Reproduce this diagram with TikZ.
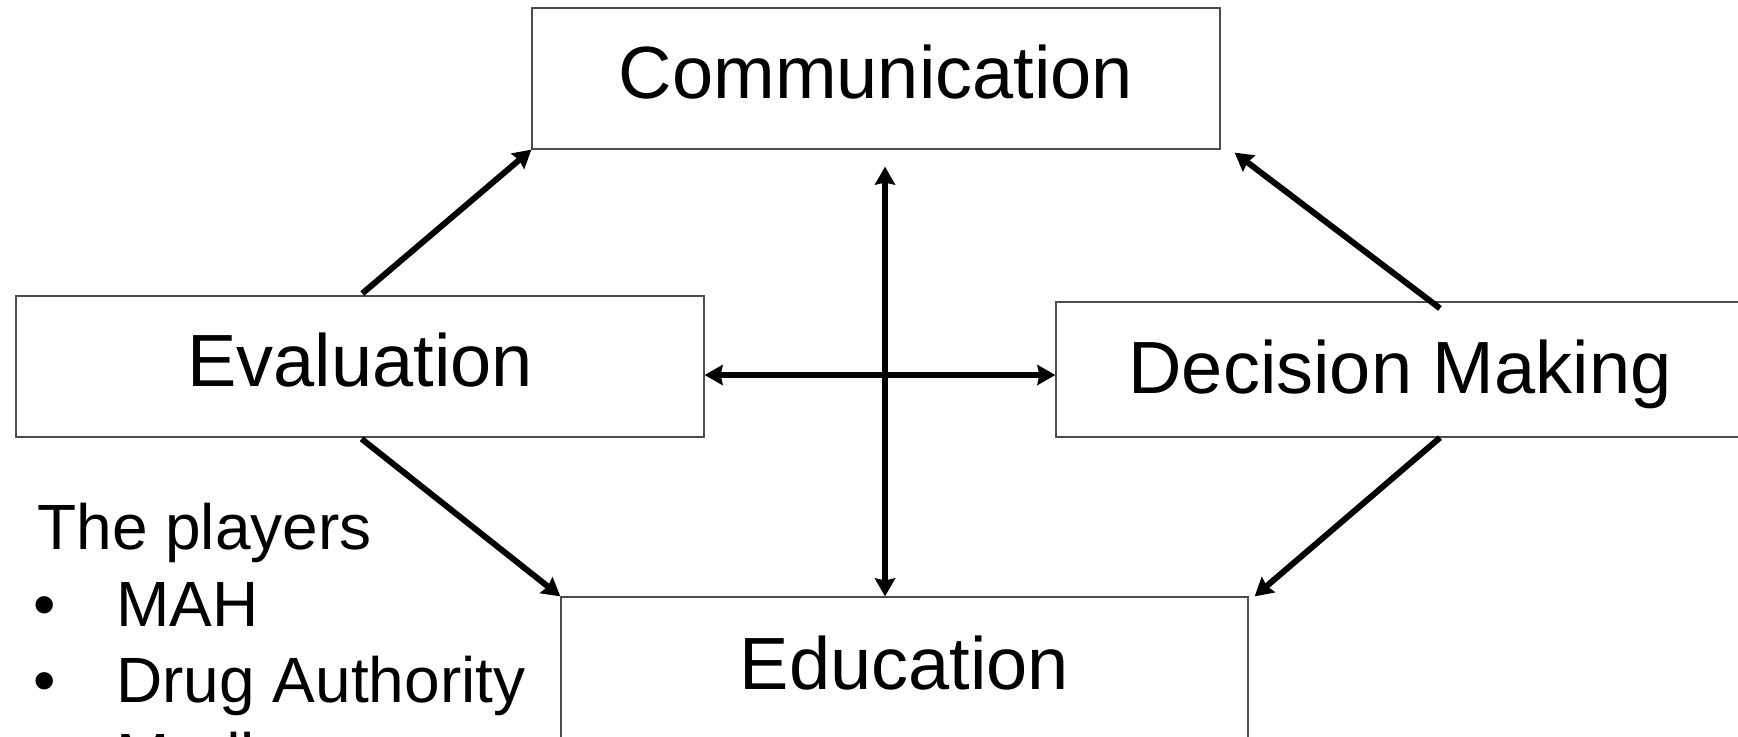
\documentclass[tikz,border=0pt]{standalone}
\usepackage{fontspec}
\setmainfont{Liberation Sans}
\usepackage{tikz}
\usetikzlibrary{arrows.meta}

\tikzset{
  stagebox/.style={draw=black!70, line width=0.6pt, minimum width=344pt, minimum height=70.5pt,
                   inner sep=0pt, text depth=6.5pt, font=\fontsize{37}{44}\selectfont},
  flow/.style={line width=3pt, ->},
  player/.style={anchor=base west, inner sep=0pt, font=\fontsize{32}{38}\selectfont}
}

\begin{document}
\begin{tikzpicture}[x=0.5pt, y=-0.5pt, >={Stealth[length=9pt,width=10pt,inset=1pt]}]
                        \useasboundingbox (0,0) rectangle (1738,736);
                        \clip (0,0) rectangle (1738,736);

                        % The boxes
                        \node[stagebox] (comm) at (876,78.5) {Communication};
                        \node[stagebox] (eval) at (360,366.5) {Evaluation};
                        \node[stagebox, minimum height=67.5pt, text depth=2.5pt] (dec) at (1400,369.5) {Decision Making};
                        \node[stagebox, minimum width=343.5pt, text depth=4.5pt] (edu) at (904.5,667.5) {Education};

                        % Arrows round the loop
                        \draw[flow, shorten <=1.5pt] (eval.north) -- (comm.south west);
                        \draw[flow, shorten <=1pt] (eval.south) -- (edu.north west);
                        \draw[flow] ([xshift=20pt,yshift=-3.5pt]dec.north) -- ([xshift=7pt,yshift=-1.5pt]comm.south east);
                        \draw[flow] ([xshift=20pt]dec.south) -- ([xshift=3pt]edu.north east);

                        % The cross
                        \draw[flow, <->, shorten <=8.5pt] ([xshift=4.5pt]comm.south) -- ([xshift=4.5pt]comm.south |- edu.north);
                        \draw[flow, <->] ([yshift=-4.25pt]eval.east) -- ([yshift=-4.25pt]eval.east -| dec.west);

                        % The players
                        \node[player] (title) at (37,549) {The players};
                        \node[player] (b1) at (33,626) {•};
                        \node[player] (p1) at (116,626) {MAH};
                        \node[player] (b2) at (33,702) {•};
                        \node[player] (p2) at (116,702) {Drug Authority};
                        \node[player] (b3) at (33,778) {•};
                        \node[player] (p3) at (116,778) {Media};

                    \end{tikzpicture}
\end{document}
